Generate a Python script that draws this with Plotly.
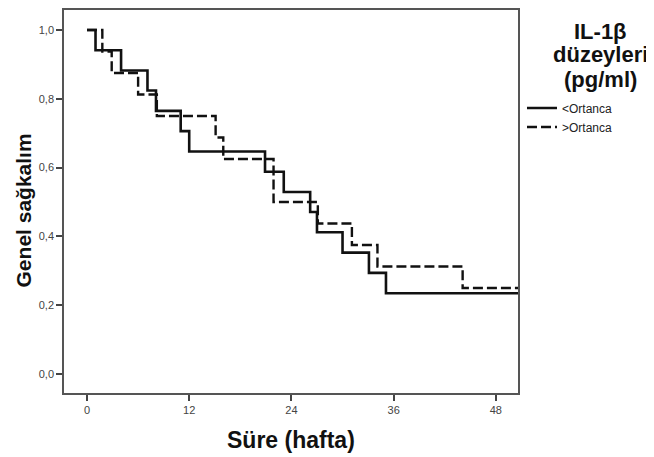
import plotly.graph_objects as go

# Kaplan-Meier step data
low_times = [0, 1.0, 4.0, 7.1, 8.1, 11.0, 12.0, 20.9, 23.1, 26.2, 27.0, 30.0, 33.1, 35.1, 52]
low_surv = [1.0, 0.941, 0.882, 0.824, 0.765, 0.706, 0.647, 0.588, 0.529, 0.471, 0.412, 0.353, 0.294, 0.235, 0.235]

high_times = [0, 1.8, 2.9, 6.0, 8.2, 15.1, 16.0, 21.9, 27.1, 31.1, 34.1, 44.1, 52]
high_surv = [1.0, 0.9375, 0.875, 0.8125, 0.75, 0.6875, 0.625, 0.5, 0.4375, 0.375, 0.3125, 0.25, 0.25]

series_names = ["<Ortanca", ">Ortanca"]
legend_title_lines = ["IL-1β", "düzeyleri", "(pg/ml)"]
x_ticks = [0, 12, 24, 36, 48]
y_ticks = [0.0, 0.2, 0.4, 0.6, 0.8, 1.0]

font_family = "Liberation Sans, Arial, sans-serif"

fig = go.Figure()
fig.add_trace(go.Scatter(x=low_times, y=low_surv, mode="lines", name=series_names[0],
                         line=dict(shape="hv", color="#111111", width=2.6)))
fig.add_trace(go.Scatter(x=high_times, y=high_surv, mode="lines", name=series_names[1],
                         line=dict(shape="hv", color="#111111", width=2.4, dash="10px,4px")))

annotations = []
for text, yy in zip(legend_title_lines, [0.9429, 0.8831, 0.8182]):
    annotations.append(dict(text="<b>" + text + "</b>", xref="paper", yref="paper",
                            x=1.1828, y=yy, xanchor="center", yanchor="middle", showarrow=False,
                            font=dict(size=22, family=font_family, color="#111")))
annotations.append(dict(text="<b>Genel sağkalım</b>", xref="paper", yref="paper",
                        x=-0.0892, y=0.4753, xanchor="center", yanchor="middle", showarrow=False,
                        textangle=-90, font=dict(size=21, family=font_family, color="#111")))
annotations.append(dict(text="<b>Süre (hafta)</b>", xref="paper", yref="paper",
                        x=0.5, y=-0.122, xanchor="center", yanchor="middle", showarrow=False,
                        font=dict(size=23, family=font_family, color="#111")))

fig.update_layout(
    width=654, height=457,
    margin=dict(l=56, r=144, t=0, b=72),
    paper_bgcolor="white", plot_bgcolor="white",
    separators=",.",
    font=dict(family=font_family, color="#111111"),
    showlegend=True,
    legend=dict(x=1.0088, y=0.7818, xanchor="left", yanchor="top",
                font=dict(size=12, family=font_family, color="#222"),
                itemwidth=30, tracegroupgap=0, bgcolor="rgba(0,0,0,0)"),
    annotations=annotations,
)
fig.update_xaxes(range=[-2.7, 50.6], tickvals=x_ticks, ticks="outside", ticklen=6,
                 tickcolor="#444", tickwidth=1.5,
                 showline=True, mirror=True, linecolor="#555", linewidth=1.5,
                 showgrid=False, zeroline=False,
                 tickfont=dict(size=11, color="#444"))
fig.update_yaxes(range=[-0.055, 1.058], tickvals=y_ticks, tickformat=".1f", ticks="outside", ticklen=6,
                 tickcolor="#444", tickwidth=1.5,
                 showline=True, mirror=True, linecolor="#555", linewidth=1.5,
                 showgrid=False, zeroline=False,
                 tickfont=dict(size=11, color="#444"))

fig.write_html("out.html")
